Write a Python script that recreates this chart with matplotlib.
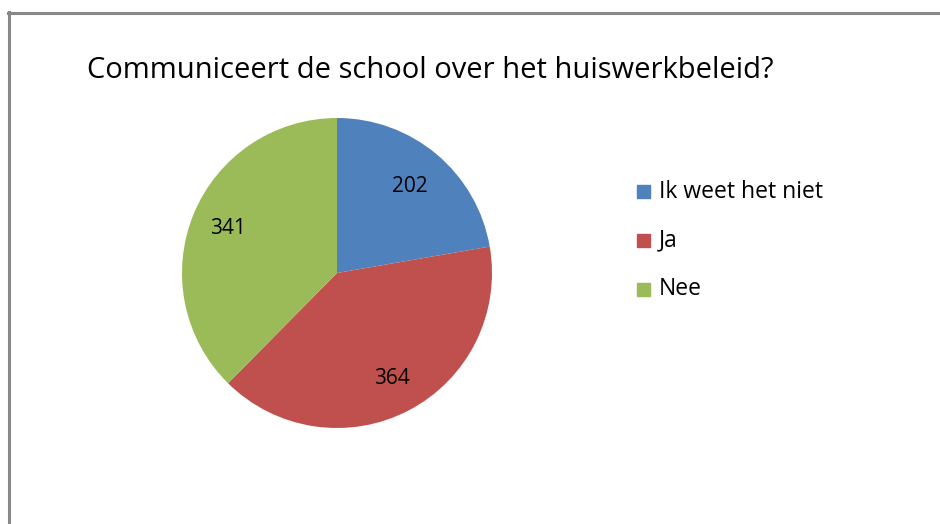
import matplotlib
matplotlib.use("Agg")
import matplotlib.pyplot as plt
from matplotlib.patches import Rectangle
from matplotlib.lines import Line2D
import numpy as np

categories = ["Ik weet het niet", "Ja", "Nee"]
values = [202, 364, 341]
colors = ["#4F81BD", "#C0504D", "#9BBB59"]
title = "Communiceert de school over het huiswerkbeleid?"

plt.rcParams['font.family'] = ['Open Sans', 'DejaVu Sans']

W, H = 940, 524
fig = plt.figure(figsize=(W/100, H/100), dpi=100)
fig.patch.set_facecolor("white")

# border lines (left and top)
fig.add_artist(Line2D([8.5/W, 8.5/W], [0, 1 - 12/H], color="#888888", lw=2.2, transform=fig.transFigure))
fig.add_artist(Line2D([8/W, 1], [1 - 12.5/H, 1 - 12.5/H], color="#888888", lw=2.2, transform=fig.transFigure))

cx, cy, r = 337, 273, 155
ax = fig.add_axes([(cx - r)/W, (H - cy - r)/H, 2*r/W, 2*r/H])
wedges, texts = ax.pie(values, colors=colors, startangle=90, counterclock=False,
                       radius=1, wedgeprops=dict(linewidth=0))
ax.set_xlim(-1, 1)
ax.set_ylim(-1, 1)
ax.set_aspect("auto")
ax.axis("off")

total = sum(values)
start = 90.0
label_r = [0.73, 0.77, 0.76]
for v, lr in zip(values, label_r):
    ang = start - v/total*360/2
    start -= v/total*360
    x = lr*np.cos(np.radians(ang))
    y = lr*np.sin(np.radians(ang))
    ax.text(x, y, str(v), ha="center", va="center", fontsize=15, color="black")

fig.text(87/W, 1 - 71/H, title, fontsize=21, ha="left", va="center", color="black")

ys = [191.5, 240.5, 289]
for cat, col, y in zip(categories, colors, ys):
    fig.add_artist(Rectangle((637/W, 1 - (y + 6.5)/H), 13/W, 13/H, color=col, transform=fig.transFigure))
    fig.text(659/W, 1 - y/H, cat, fontsize=16.5, ha="left", va="center", color="black")

fig.savefig("out.png", dpi=100)
